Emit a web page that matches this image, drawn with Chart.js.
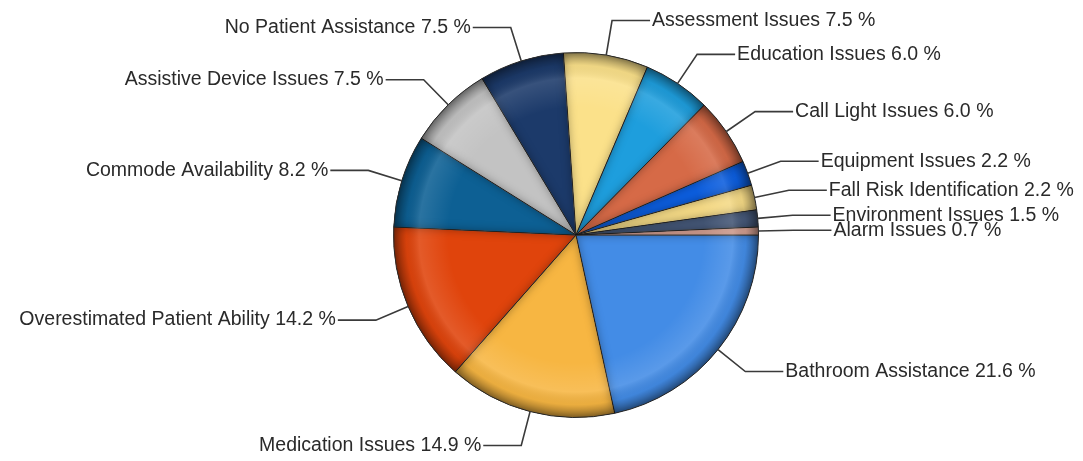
<!DOCTYPE html>
<html>
<head>
<meta charset="utf-8">
<script src="https://cdn.jsdelivr.net/npm/chart.js@4.4.1/dist/chart.umd.min.js"></script>
<style>
    html, body { margin: 0; padding: 0; background: #ffffff; }
    #myChart { display: block; }
</style>
</head>
<body>
<canvas id="myChart" width="1083" height="461"></canvas>
<script>
// categories, clockwise from 3 o'clock
var categories = [
    'Bathroom Assistance',
    'Medication Issues',
    'Overestimated Patient Ability',
    'Commode Availability',
    'Assistive Device Issues',
    'No Patient Assistance',
    'Assessment Issues',
    'Education Issues',
    'Call Light Issues',
    'Equipment Issues',
    'Fall Risk Identification',
    'Environment Issues',
    'Alarm Issues'
];
var percents = [21.6, 14.9, 14.2, 8.2, 7.5, 7.5, 7.5, 6.0, 6.0, 2.2, 2.2, 1.5, 0.7];
var sliceColors = [
    '#438CE6', '#F7B642', '#E0440C', '#0D6094', '#C3C3C3', '#1C3A6A', '#FBE18A',
    '#1E9EDD', '#D66A47', '#0C5EDF', '#F5DA86', '#46597A', '#F1B5A5'
];

var Dashboard = function () {

    //********************************************************************************//
    //                            Global variables
    //********************************************************************************//
    var $chart = document.getElementById('myChart');
    var chart;
    var labelFont = '19.5px "Liberation Sans", Arial, sans-serif';

    // soft edge look: darker rim + faint inner shadow on each slice
    var softEdge = {
        id: 'softEdge',
        afterDatasetsDraw: function (c) {
            var ctx = c.ctx;
            var arcs = c.getDatasetMeta(0).data;
            arcs.forEach(function (arc) {
                var p = arc.getProps(['x', 'y', 'startAngle', 'endAngle', 'outerRadius'], true);
                ctx.save();
                ctx.beginPath();
                ctx.moveTo(p.x, p.y);
                ctx.arc(p.x, p.y, p.outerRadius, p.startAngle, p.endAngle);
                ctx.closePath();
                ctx.clip();
                ctx.beginPath();
                ctx.rect(p.x - p.outerRadius - 200, p.y - p.outerRadius - 200, p.outerRadius * 2 + 400, p.outerRadius * 2 + 400);
                ctx.moveTo(p.x, p.y);
                ctx.arc(p.x, p.y, p.outerRadius, p.startAngle, p.endAngle);
                ctx.closePath();
                ctx.shadowColor = 'rgba(0,0,0,0.35)';
                ctx.shadowBlur = 10;
                ctx.fillStyle = '#000';
                ctx.fill('evenodd');
                ctx.restore();
            });
            if (!arcs.length) return;
            var a = arcs[0].getProps(['x', 'y', 'outerRadius'], true);
            var g = ctx.createRadialGradient(a.x, a.y, 0, a.x, a.y, a.outerRadius);
            g.addColorStop(0, 'rgba(255,255,255,0)');
            g.addColorStop(0.7, 'rgba(255,255,255,0)');
            g.addColorStop(0.86, 'rgba(255,255,255,0.12)');
            g.addColorStop(0.93, 'rgba(0,0,0,0.05)');
            g.addColorStop(1, 'rgba(0,0,0,0.38)');
            ctx.save();
            ctx.beginPath();
            ctx.arc(a.x, a.y, a.outerRadius, 0, Math.PI * 2);
            ctx.fillStyle = g;
            ctx.fill();
            ctx.restore();
        }
    };

    // outside labels with leader lines (radial piece then horizontal piece)
    var leaderLabels = {
        id: 'leaderLabels',
        afterDraw: function (c) {
            var ctx = c.ctx;
            var arcs = c.getDatasetMeta(0).data;
            ctx.save();
            ctx.font = labelFont;
            ctx.textBaseline = 'middle';
            arcs.forEach(function (arc, i) {
                var p = arc.getProps(['x', 'y', 'startAngle', 'endAngle', 'outerRadius'], true);
                var mid = (p.startAngle + p.endAngle) / 2;
                var cos = Math.cos(mid), sin = Math.sin(mid);
                var x0 = p.x + cos * p.outerRadius;
                var y0 = p.y + sin * p.outerRadius;
                var x1 = p.x + cos * (p.outerRadius + 35);
                var y1 = p.y + sin * (p.outerRadius + 35);
                var right = cos >= 0;
                var x2 = x1 + (right ? 38 : -38);
                ctx.beginPath();
                ctx.moveTo(x0, y0);
                ctx.lineTo(x1, y1);
                ctx.lineTo(x2, y1);
                ctx.strokeStyle = '#3a3a3a';
                ctx.lineWidth = 1.6;
                ctx.stroke();
                ctx.fillStyle = '#2a2a2a';
                ctx.textAlign = right ? 'left' : 'right';
                var txt = categories[i] + ' ' + percents[i].toFixed(1) + ' %';
                ctx.fillText(txt, x2 + (right ? 2 : -2), y1);
            });
            ctx.restore();
        }
    };

    const data = {
        labels: categories,
        datasets: [{
            data: percents,
            backgroundColor: sliceColors,
            borderColor: '#4a4a4a',
            borderWidth: 1
        }]
    };
    const config = {
        type: 'pie',
        data: data,
        options: {
            responsive: false,
            animation: false,
            rotation: 90,
            layout: {
                padding: { left: 300, right: 231, top: 52, bottom: 43 }
            },
            plugins: {
                legend: { display: false },
                tooltip: { enabled: false }
            }
        },
        plugins: [softEdge, leaderLabels]
    };

    //********************************************************************************//
    //                            Initializations
    //********************************************************************************//
    var initChart = function () {
        chart = new Chart($chart, config);
    }

    return {
        init: function () {
            initChart();
        },
    };
}();

window.addEventListener('load', function () {
    Dashboard.init();
});
</script>
</body>
</html>
